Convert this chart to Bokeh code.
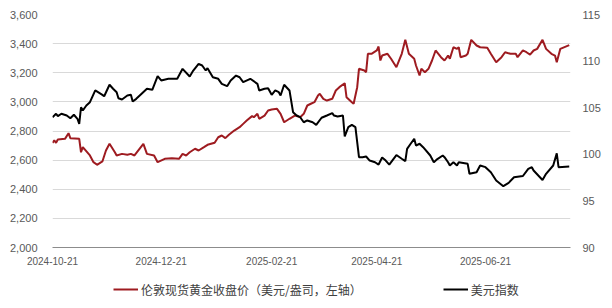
from datetime import datetime
from bokeh.plotting import figure
from bokeh.layouts import column
from bokeh.models import (Range1d, LinearAxis, FixedTicker, NumeralTickFormatter,
                          DatetimeTickFormatter, Legend, LegendItem)
from bokeh.embed import file_html
from bokeh.resources import INLINE

# London spot gold close (USD/oz, left axis)
gold_dates = ["2024-10-21", "2024-10-22", "2024-10-23", "2024-10-24", "2024-10-28", "2024-10-30",
              "2024-10-31", "2024-11-05", "2024-11-06", "2024-11-07", "2024-11-11", "2024-11-13",
              "2024-11-15", "2024-11-18", "2024-11-20", "2024-11-22", "2024-11-25", "2024-11-26",
              "2024-11-29", "2024-12-02", "2024-12-04", "2024-12-06", "2024-12-11", "2024-12-13",
              "2024-12-17", "2024-12-19", "2024-12-23", "2024-12-27", "2024-12-31", "2025-01-02",
              "2025-01-04", "2025-01-06", "2025-01-09", "2025-01-11", "2025-01-14", "2025-01-16",
              "2025-01-20", "2025-01-22", "2025-01-24", "2025-01-26", "2025-01-28", "2025-01-31",
              "2025-02-03", "2025-02-05", "2025-02-07", "2025-02-10", "2025-02-11", "2025-02-13",
              "2025-02-14", "2025-02-17", "2025-02-19", "2025-02-21", "2025-02-24", "2025-02-26",
              "2025-02-28", "2025-03-03", "2025-03-06", "2025-03-09", "2025-03-11", "2025-03-13",
              "2025-03-15", "2025-03-17", "2025-03-19", "2025-03-20", "2025-03-22", "2025-03-24",
              "2025-03-27", "2025-03-29", "2025-03-31", "2025-04-03", "2025-04-04", "2025-04-07",
              "2025-04-08", "2025-04-10", "2025-04-11", "2025-04-14", "2025-04-15", "2025-04-16",
              "2025-04-18", "2025-04-21", "2025-04-22", "2025-04-23", "2025-04-24", "2025-04-27",
              "2025-04-29", "2025-05-02", "2025-05-05", "2025-05-07", "2025-05-09", "2025-05-12",
              "2025-05-13", "2025-05-15", "2025-05-16", "2025-05-18", "2025-05-20", "2025-05-22",
              "2025-05-24", "2025-05-27", "2025-05-29", "2025-05-31", "2025-06-01", "2025-06-03",
              "2025-06-05", "2025-06-06", "2025-06-07", "2025-06-10", "2025-06-11", "2025-06-13",
              "2025-06-16", "2025-06-18", "2025-06-22", "2025-06-24", "2025-06-27", "2025-06-30",
              "2025-07-02", "2025-07-05", "2025-07-08", "2025-07-09", "2025-07-12", "2025-07-14",
              "2025-07-16", "2025-07-18", "2025-07-20", "2025-07-23", "2025-07-25", "2025-07-28",
              "2025-07-30", "2025-07-31", "2025-08-02", "2025-08-07"]
gold_values = [2719, 2735, 2719, 2742, 2746, 2785,
               2751, 2746, 2654, 2689, 2632, 2586,
               2568, 2591, 2666, 2712, 2654, 2632,
               2643, 2637, 2643, 2632, 2712, 2643,
               2632, 2586, 2609, 2613, 2609, 2643,
               2632, 2654, 2678, 2666, 2689, 2705,
               2719, 2757, 2769, 2751, 2774, 2803,
               2826, 2849, 2872, 2902, 2895, 2918,
               2884, 2906, 2941, 2948, 2952, 2918,
               2860, 2884, 2906, 2895, 2918, 2975,
               2987, 2998, 3044, 3055, 3021, 3009,
               3021, 3078, 3101, 3128, 3032, 2998,
               2987, 3101, 3227, 3215, 3204, 3330,
               3330, 3353, 3380, 3284, 3318, 3330,
               3296, 3238, 3330, 3426, 3330, 3296,
               3250, 3181, 3227, 3204, 3227, 3284,
               3353, 3307, 3284, 3318, 3296, 3375,
               3364, 3375, 3307, 3318, 3330, 3426,
               3387, 3375, 3371, 3330, 3272, 3307,
               3341, 3330, 3330, 3307, 3353, 3341,
               3325, 3353, 3364, 3426, 3364, 3330,
               3318, 3272, 3364, 3390]

# US dollar index (right axis)
dxy_dates = ["2024-10-21", "2024-10-22", "2024-10-23", "2024-10-24", "2024-10-26", "2024-10-29",
             "2024-10-31", "2024-11-02", "2024-11-04", "2024-11-05", "2024-11-06", "2024-11-07",
             "2024-11-09", "2024-11-11", "2024-11-14", "2024-11-18", "2024-11-19", "2024-11-22",
             "2024-11-24", "2024-11-26", "2024-11-27", "2024-11-29", "2024-12-02", "2024-12-04",
             "2024-12-05", "2024-12-07", "2024-12-10", "2024-12-13", "2024-12-16", "2024-12-19",
             "2024-12-21", "2024-12-25", "2024-12-30", "2025-01-02", "2025-01-06", "2025-01-08",
             "2025-01-11", "2025-01-13", "2025-01-15", "2025-01-16", "2025-01-19", "2025-01-22",
             "2025-01-24", "2025-01-27", "2025-01-29", "2025-02-01", "2025-02-03", "2025-02-05",
             "2025-02-09", "2025-02-13", "2025-02-14", "2025-02-17", "2025-02-19", "2025-02-21",
             "2025-02-23", "2025-02-25", "2025-02-26", "2025-02-28", "2025-03-03", "2025-03-05",
             "2025-03-07", "2025-03-09", "2025-03-11", "2025-03-13", "2025-03-16", "2025-03-18",
             "2025-03-21", "2025-03-24", "2025-03-27", "2025-03-28", "2025-03-30", "2025-04-02",
             "2025-04-03", "2025-04-05", "2025-04-07", "2025-04-09", "2025-04-11", "2025-04-13",
             "2025-04-15", "2025-04-17", "2025-04-20", "2025-04-22", "2025-04-24", "2025-04-26",
             "2025-04-28", "2025-05-02", "2025-05-05", "2025-05-07", "2025-05-08", "2025-05-10",
             "2025-05-12", "2025-05-13", "2025-05-15", "2025-05-17", "2025-05-21", "2025-05-23",
             "2025-05-25", "2025-05-28", "2025-05-29", "2025-05-31", "2025-06-01", "2025-06-03",
             "2025-06-05", "2025-06-06", "2025-06-11", "2025-06-12", "2025-06-16", "2025-06-18",
             "2025-06-21", "2025-06-24", "2025-06-27", "2025-07-01", "2025-07-04", "2025-07-07",
             "2025-07-12", "2025-07-15", "2025-07-17", "2025-07-18", "2025-07-23", "2025-07-25",
             "2025-07-29", "2025-07-31", "2025-08-01", "2025-08-07"]
dxy_values = [103.98, 104.16, 104.35, 104.09, 104.35, 104.16,
              103.87, 104.24, 103.81, 103.27, 105.05, 104.70,
              105.24, 105.59, 106.85, 106.38, 106.23, 107.46,
              107.03, 106.66, 106.02, 105.88, 106.31, 106.38,
              105.66, 105.95, 106.49, 107.03, 106.92, 108.38,
              107.92, 108.10, 108.10, 109.17, 108.35, 108.99,
              109.71, 109.53, 108.99, 109.24, 108.27, 108.10,
              107.56, 107.31, 107.92, 108.45, 108.27, 107.74,
              108.10, 107.56, 106.85, 107.03, 107.09, 106.38,
              106.85, 106.66, 106.31, 107.46, 106.85, 104.52,
              104.16, 103.98, 103.44, 103.63, 103.44, 103.16,
              103.92, 104.16, 104.41, 104.16, 104.06, 104.16,
              101.91, 102.91, 103.16, 102.91, 99.69, 99.69,
              99.76, 99.33, 99.15, 98.90, 99.66, 99.33,
              98.90, 99.92, 99.52, 99.26, 100.59, 101.13,
              101.66, 100.94, 101.13, 100.76, 99.87, 99.15,
              99.49, 99.87, 99.69, 99.15, 98.80, 99.15,
              98.80, 99.15, 98.98, 97.91, 98.08, 98.80,
              98.62, 98.08, 97.19, 96.58, 96.94, 97.54,
              97.67, 98.44, 98.62, 98.26, 97.24, 97.91,
              98.80, 100.10, 98.62, 98.69]

x_tick_labels = ["2024-10-21", "2024-12-21", "2025-02-21", "2025-04-21", "2025-06-21"]
left_ticks = [2000, 2200, 2400, 2600, 2800, 3000, 3200, 3400, 3600]
right_ticks = [90, 95, 100, 105, 110, 115]

gold_name = "伦敦现货黄金收盘价（美元/盎司，左轴）"
dxy_name = "美元指数"

def to_dt(s):
    return datetime.strptime(s, "%Y-%m-%d")

gx = [to_dt(s) for s in gold_dates]
dx = [to_dt(s) for s in dxy_dates]
tick_ms = [to_dt(s).timestamp() * 1000 for s in x_tick_labels]

FONT = "Liberation Sans"
LABEL_COLOR = "#595959"
GOLD_COLOR = "#9e1b20"
DXY_COLOR = "#000000"

p = figure(width=612, height=270, output_backend="svg", toolbar_location=None,
           x_axis_type="datetime",
           x_range=Range1d(datetime(2024, 10, 21), datetime(2025, 8, 7, 17)),
           y_range=Range1d(2000, 3600),
           min_border_left=52, min_border_right=42, min_border_top=14, min_border_bottom=23)
p.outline_line_color = None
p.background_fill_color = "white"
p.border_fill_color = "white"

p.extra_y_ranges = {"dxy": Range1d(90, 115)}

# grid
p.xgrid.visible = False
p.ygrid.ticker = FixedTicker(ticks=left_ticks)
p.ygrid.grid_line_color = "#d9d9d9"
p.ygrid.grid_line_width = 1

# left axis
ly = p.yaxis[0]
ly.ticker = FixedTicker(ticks=left_ticks)
ly.formatter = NumeralTickFormatter(format="0,0")
ly.axis_line_color = None
ly.major_tick_line_color = None
ly.minor_tick_line_color = None
ly.major_tick_out = 0
ly.minor_tick_out = 0
ly.major_label_standoff = 15
ly.major_label_text_font = FONT
ly.major_label_text_font_size = "11px"
ly.major_label_text_color = LABEL_COLOR

# right axis
ry = LinearAxis(y_range_name="dxy", ticker=FixedTicker(ticks=right_ticks))
ry.axis_line_color = None
ry.major_tick_line_color = None
ry.minor_tick_line_color = None
ry.major_tick_out = 0
ry.minor_tick_out = 0
ry.major_label_standoff = 12
ry.major_label_text_font = FONT
ry.major_label_text_font_size = "11px"
ry.major_label_text_color = LABEL_COLOR
p.add_layout(ry, "right")

# bottom axis
bx = p.xaxis[0]
bx.ticker = FixedTicker(ticks=tick_ms)
bx.formatter = DatetimeTickFormatter(days="%Y-%m-%d", months="%Y-%m-%d", years="%Y-%m-%d",
                                     hours="%Y-%m-%d", minutes="%Y-%m-%d")
bx.axis_line_color = "#8c8c8c"
bx.axis_line_width = 1
bx.major_tick_line_color = None
bx.minor_tick_line_color = None
bx.major_tick_out = 0
bx.minor_tick_out = 0
bx.major_label_standoff = 9
bx.major_label_text_font = FONT
bx.major_label_text_font_size = "10px"
bx.major_label_text_color = LABEL_COLOR

p.line(gx, gold_values, line_color=GOLD_COLOR, line_width=2)
p.line(dx, dxy_values, line_color=DXY_COLOR, line_width=2, y_range_name="dxy")

# legend strip below the chart (its lines hold the same data, outside its view)
lg = figure(width=612, height=38, output_backend="svg", toolbar_location=None,
            x_range=Range1d(0, 1), y_range=Range1d(0, 1),
            min_border_left=0, min_border_right=0, min_border_top=0, min_border_bottom=0)
lg.axis.visible = False
lg.grid.visible = False
lg.outline_line_color = None
lg.background_fill_color = "white"
lg.border_fill_color = "white"
k_gold = lg.line(gx, gold_values, line_color=GOLD_COLOR, line_width=2)
k_dxy = lg.line(dx, dxy_values, line_color=DXY_COLOR, line_width=2)

legend = Legend(items=[LegendItem(label=gold_name, renderers=[k_gold]),
                       LegendItem(label=dxy_name, renderers=[k_dxy])],
                orientation="horizontal", location=(61, 9),
                glyph_width=25, glyph_height=20, label_standoff=3, spacing=81,
                padding=0, margin=0, border_line_color=None, background_fill_alpha=0,
                label_text_font="Noto Sans CJK SC", label_text_font_size="12px",
                label_text_color="#404040", label_height=20)
lg.add_layout(legend, "center")

layout = column(p, lg, spacing=0)
open("out.html", "w").write(file_html(layout, INLINE))
